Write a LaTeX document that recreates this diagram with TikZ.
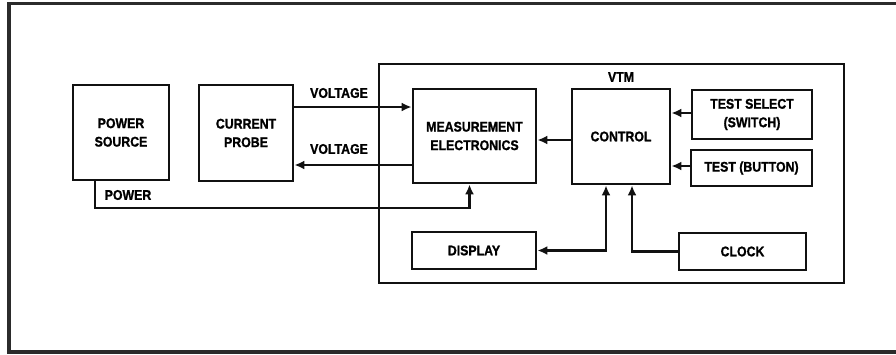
\documentclass[tikz,border=0pt]{standalone}
\usepackage{fontspec}
\setmainfont{Liberation Sans}
\newfontfamily\vtmfont[FakeStretch=0.88,FakeBold=1.2]{Liberation Sans}
\usepackage{tikz}
\usetikzlibrary{positioning,calc,arrows.meta}
\definecolor{frameink}{HTML}{2B2B2B}
\definecolor{blockink}{HTML}{111111}

\begin{document}
\begin{tikzpicture}[x=1pt,y=-1pt,
  blockbox/.style={draw=blockink, line width=2.8pt, fill=white, align=center, inner sep=0pt,
        font=\vtmfont\bfseries\fontsize{14}{18.5}\selectfont},
  wire/.style={draw=blockink, line width=2.1pt},
  tip/.style={-{Latex[length=10pt,width=9pt]}},
  wirelabel/.style={font=\vtmfont\bfseries\fontsize{14}{15}\selectfont, inner sep=0pt}]
\useasboundingbox (0,0) rectangle (896,354);
\fill[white] (0,0) rectangle (896,354);

% page frame, open to the right
\draw[frameink, line width=3.5pt] (896,3.5) -- (9,3.5) -- (9,352) -- (896,352);

% VTM enclosure
\draw[blockink, line width=1.7pt] (379,64) rectangle (844,283);
\node[wirelabel] (vtmlabel) at (621,77) {VTM};

\node[blockbox, minimum width=96pt, minimum height=95pt] (power) at (121,132.5) {POWER\\SOURCE};
\node[blockbox, minimum width=94pt, minimum height=96pt] (probe) at (246,133) {CURRENT\\PROBE};
\node[blockbox, minimum width=123pt, minimum height=94pt] (meas) at (474.5,136) {MEASUREMENT\\ELECTRONICS};
\node[blockbox, minimum width=98pt, minimum height=95pt] (ctrl) at (621,136.5) {CONTROL};
\node[blockbox, minimum width=120pt, minimum height=49pt] (tsel) at (752,114.5) {TEST SELECT\\(SWITCH)};
\node[blockbox, minimum width=121pt, minimum height=36pt] (tbtn) at (751.5,168) {TEST (BUTTON)};
\node[blockbox, minimum width=124pt, minimum height=37pt] (disp) at (474,250.5) {DISPLAY};
\node[blockbox, minimum width=127pt, minimum height=37pt] (clock) at (742.5,251.5) {CLOCK};

% probe <-> measurement
\coordinate (vin) at ([yshift=26pt]probe.east);
\coordinate (vout) at ([yshift=-29pt]meas.west);
\draw[wire,tip] (vin) -- (vin -| meas.west);
\draw[wire,tip] (vout) -- (vout -| probe.east);
\node[wirelabel] (vinlabel) at (339,93) {VOLTAGE};
\node[wirelabel] (voutlabel) at (339,149) {VOLTAGE};

% power feed
\coordinate (pwrout) at ([xshift=-26pt]power.south);
\coordinate (pwrbend) at ($(pwrout)+(0,27)$);
\draw[wire,tip] (pwrout) -- (pwrbend) -| ([xshift=-5pt]meas.south);
\node[wirelabel] (pwrlabel) at (128,195) {POWER};

% control side
\draw[wire,tip] ([yshift=-3.5pt]ctrl.west) -- ([yshift=-3.5pt]ctrl.west -| meas.east);
\draw[wire,tip] ([yshift=1.5pt]tsel.west) -- ([yshift=1.5pt]tsel.west -| ctrl.east);
\draw[wire,tip] ([yshift=2pt]tbtn.west) -- ([yshift=2pt]tbtn.west -| ctrl.east);
\draw[wire,{Latex[length=10pt,width=9pt]}-{Latex[length=10pt,width=9pt]}] (disp.east) -| ([xshift=-15pt]ctrl.south);
\draw[wire,tip] (clock.west) -| ([xshift=11pt]ctrl.south);
\end{tikzpicture}
\end{document}
